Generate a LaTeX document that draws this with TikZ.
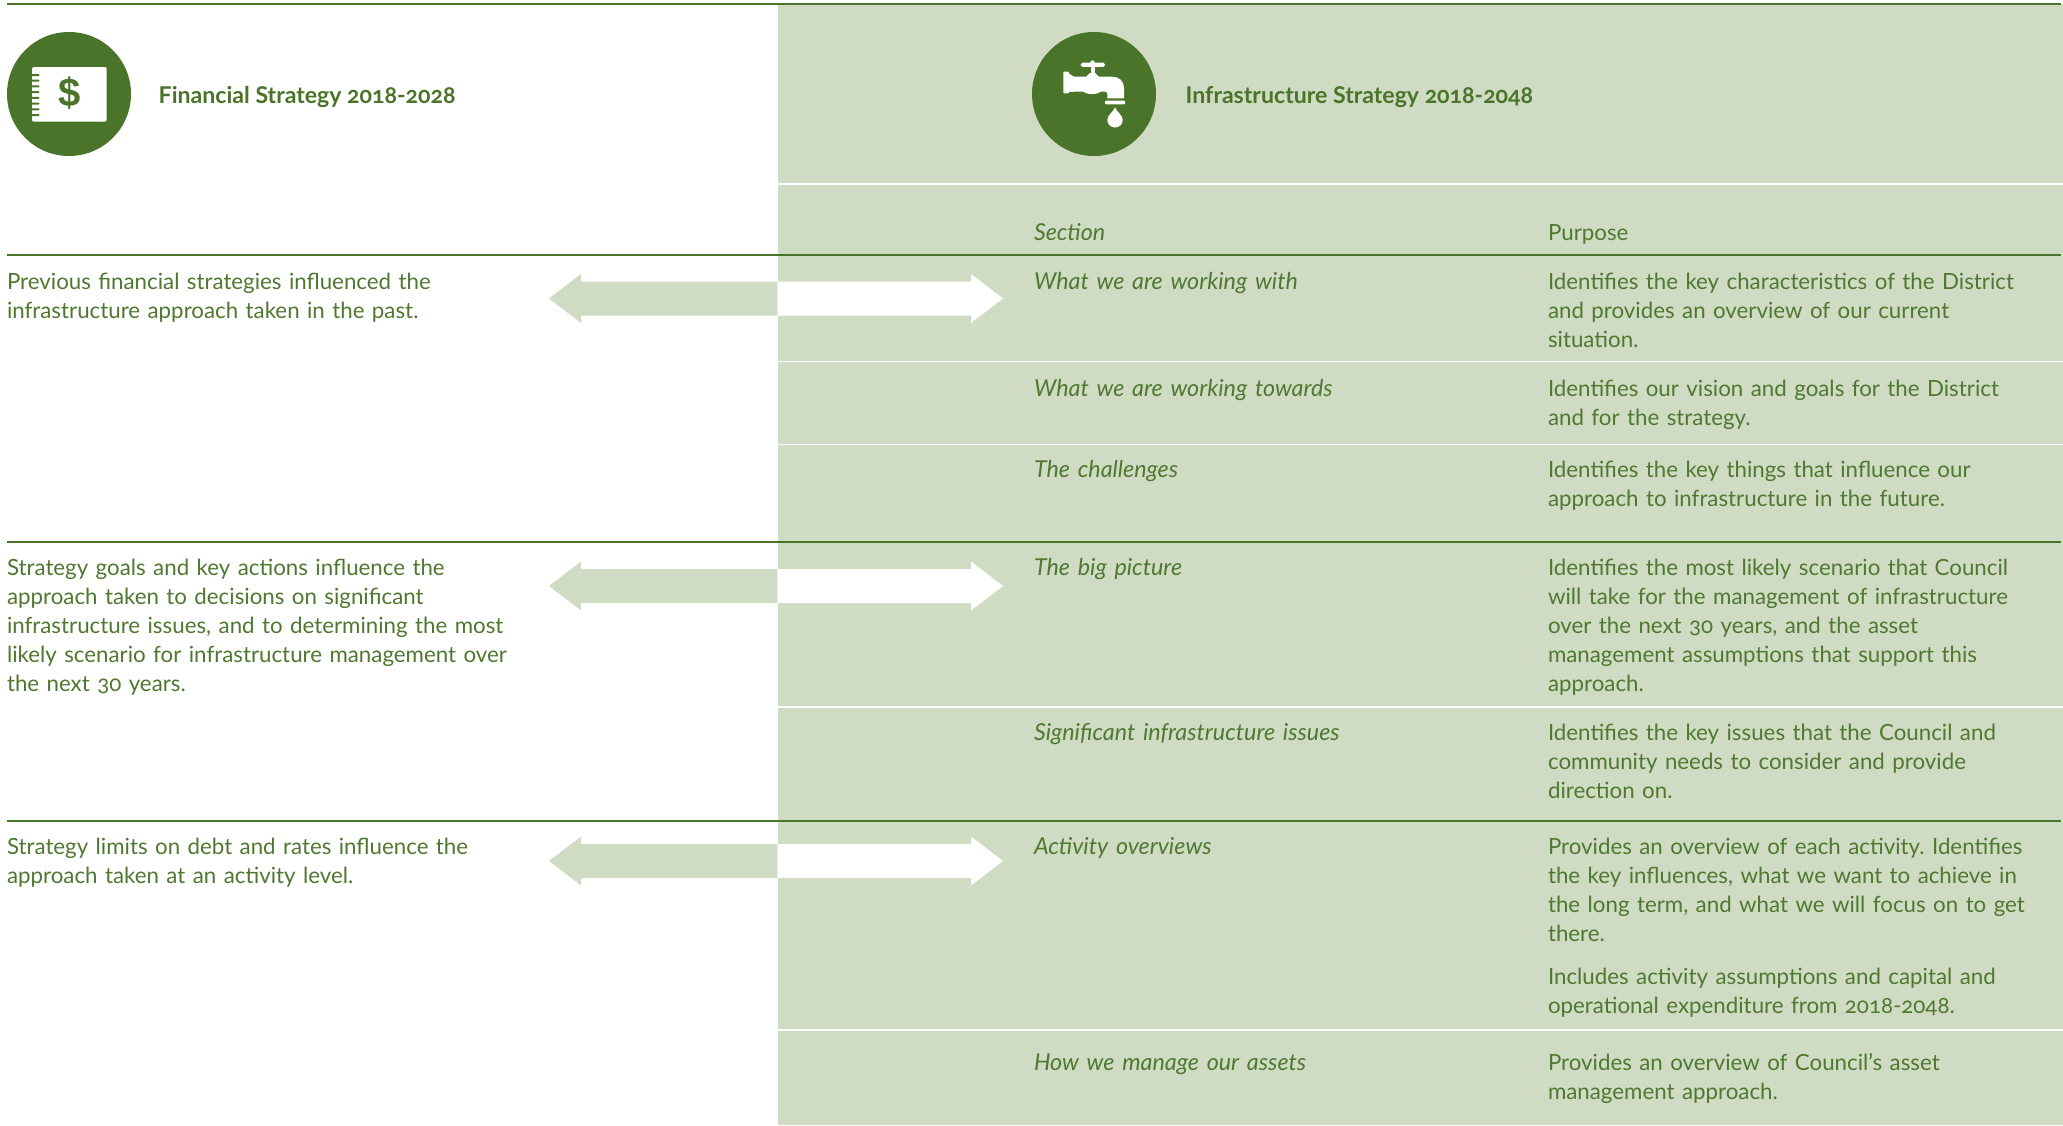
\documentclass[tikz,border=0pt]{standalone}
\usepackage{fontspec}
\setmainfont{Lato}[ItalicFont={Lato Italic},BoldFont={Lato Bold},Numbers=OldStyle]
\definecolor{dg}{HTML}{4F7830}
\definecolor{dk}{HTML}{4A7429}
\definecolor{pg}{HTML}{D0DBC3}
\tikzset{
 tx/.style={anchor=north west,inner sep=0pt,outer sep=0pt,text=dg,align=left,text width=600pt,font=\frenchspacing\fontsize{22.3}{29}\selectfont},
 itx/.style={tx,font=\frenchspacing\fontsize{23.3}{29}\selectfont\itshape},
 ttl/.style={anchor=base west,inner sep=0pt,text=dk,font=\fontsize{23.1}{29}\selectfont\bfseries},
 rule/.style={draw=dk,line width=1.6pt},
 wrule/.style={draw=white,line width=1.3pt},
 disc/.style={circle,fill=dk,minimum size=124pt,inner sep=0pt}
}
\newcommand{\bl}[1]{\strut\ignorespaces #1}
\begin{document}
\begin{tikzpicture}[x=1pt,y=-1pt]
\useasboundingbox (0,0) rectangle (2063,1125);
\fill[white] (0,0) rectangle (2063,1125);
\fill[pg] (777.5,4) rectangle (2063,1125);
% rules
\foreach \y in {361.5,444.5,707,1030} \draw[wrule] (777.5,\y) -- (2063,\y);
\draw[wrule] (777.5,184) -- (2063,184);
\foreach \y in {4,255,542,821} \draw[rule] (7,\y) -- (2061,\y);
% arrows
\foreach \c in {298.5,586,861}{
 \fill[pg] (777.5,\c-17) -- (581,\c-17) -- (581,\c-24.5) -- (549,\c) -- (581,\c+24.5) -- (581,\c+17) -- (777.5,\c+17) -- cycle;
 \fill[white] (777.5,\c-17) -- (971,\c-17) -- (971,\c-24.5) -- (1003,\c) -- (971,\c+24.5) -- (971,\c+17) -- (777.5,\c+17) -- cycle;
}
% discs
\node[disc] (d1) at (69,94) {};
\node[disc] (d2) at (1094,94) {};
% notebook icon
\fill[white,rounded corners=2pt] (32,67) rectangle (106.7,121.7);
\foreach \k in {0,...,7}{
 \fill[dk,rounded corners=0.9pt] (31,75+\k*5.72-1) rectangle (39.5,75+\k*5.72+1);
}
\node[inner sep=0pt,text=dk] (dollar) at (70,93) {\fontspec{Liberation Sans Bold}\fontsize{40}{40}\selectfont \$};
% tap icon
\fill[white,rounded corners=0.8pt] (1063.3,71.7) rectangle (1069,93.3);
\fill[white] (1068,73) -- (1074,76.7) -- (1086,76.7) -- (1090,73) -- (1095,73) -- (1099,76.7) -- (1112,76.7)
  .. controls (1119,76.7) and (1124,81) .. (1124,88) -- (1124,98.3) -- (1107.3,98.3) -- (1107.3,94)
  .. controls (1107.3,92.5) and (1106.5,91.7) .. (1105,91.7) -- (1101,91.7)
  .. controls (1098,93.5) and (1095,94.2) .. (1092,94.2) .. controls (1089,94.2) and (1086,93.5) .. (1083,91.7) -- (1074,91.7) -- (1068,92) -- cycle;
\fill[white] (1090.5,65) rectangle (1094.5,75);
\fill[white,rounded corners=1.8pt] (1080.7,62.7) rectangle (1105,66.9);
\fill[white] (1092.5,62.5) circle (2.2);
\fill[white,rounded corners=0.8pt] (1105,100.7) rectangle (1125,104.3);
\fill[white] (1115,107.3) .. controls (1113,112.5) and (1107.3,115) .. (1107.3,120)
  .. controls (1107.3,124.5) and (1111,127.5) .. (1115,127.5) .. controls (1119,127.5) and (1122.7,124.5) .. (1122.7,120)
  .. controls (1122.7,115) and (1117,112.5) .. (1115,107.3) -- cycle;
% titles
\node[ttl] (t1) at (158.5,103.5) {Financial Strategy 2018-2028};
\node[ttl] (t2) at (1185.5,103.5) {Infrastructure Strategy 2018-2048};
% headers
\node[itx] (h1) at (1034,219.7) {\bl{Section}};
\node[tx] (h2) at (1548,219.7) {\bl{Purpose}};
% left
\node[tx] (l1) at (7,268.7) {\bl{Previous financial strategies influenced the}\\infrastructure approach taken in the past.};
\node[tx] (l2) at (7,555) {\bl{Strategy goals and key actions influence the}\\approach taken to decisions on significant\\infrastructure issues, and to determining the most\\likely scenario for infrastructure management over\\the next 30 years.};
\node[tx] (l3) at (7,834) {\bl{Strategy limits on debt and rates influence the}\\approach taken at an activity level.};
% sections
\node[itx] (s1) at (1034,268.7) {\bl{What we are working with}};
\node[itx] (s2) at (1034,375.7) {\bl{What we are working towards}};
\node[itx] (s3) at (1034,457.2) {\bl{The challenges}};
\node[itx] (s4) at (1034,555) {\bl{The big picture}};
\node[itx] (s5) at (1034,720) {\bl{Significant infrastructure issues}};
\node[itx] (s6) at (1034,834) {\bl{Activity overviews}};
\node[itx] (s7) at (1034,1050) {\bl{How we manage our assets}};
% purposes
\node[tx] (p1) at (1548,268.7) {\bl{Identifies the key characteristics of the District}\\and provides an overview of our current\\situation.};
\node[tx] (p2) at (1548,375.7) {\bl{Identifies our vision and goals for the District}\\and for the strategy.};
\node[tx] (p3) at (1548,457.2) {\bl{Identifies the key things that influence our}\\approach to infrastructure in the future.};
\node[tx] (p4) at (1548,555) {\bl{Identifies the most likely scenario that Council}\\will take for the management of infrastructure\\over the next 30 years, and the asset\\management assumptions that support this\\approach.};
\node[tx] (p5) at (1548,720) {\bl{Identifies the key issues that the Council and}\\community needs to consider and provide\\direction on.};
\node[tx] (p6) at (1548,834) {\bl{Provides an overview of each activity. Identifies}\\the key influences, what we want to achieve in\\the long term, and what we will focus on to get\\there.};
\node[tx] (p6b) at (1548,964) {\bl{Includes activity assumptions and capital and}\\operational expenditure from 2018-2048.};
\node[tx] (p7) at (1548,1050) {\bl{Provides an overview of Council's asset}\\management approach.};
\end{tikzpicture}
\end{document}
